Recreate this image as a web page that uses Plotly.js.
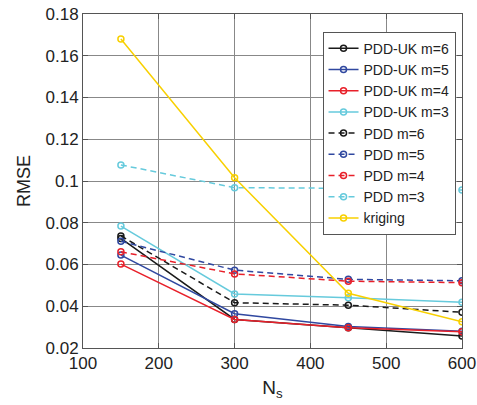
<!DOCTYPE html>
<html>
<head>
<meta charset="utf-8">
<script src="https://cdn.plot.ly/plotly-3.0.1.min.js"></script>
<style>html,body{margin:0;padding:0;background:#fff;}#chart{width:477px;height:405px;}</style>
</head>
<body>
<div id="chart"></div>
<script>
const Ns = [150, 300, 450, 600];
const pddUk6 = [0.0725, 0.0337, 0.0297, 0.0257];
const pddUk5 = [0.0645, 0.0364, 0.0303, 0.0280];
const pddUk4 = [0.0602, 0.0337, 0.0297, 0.0278];
const pddUk3 = [0.0784, 0.0459, 0.0441, 0.0419];
const pdd6 = [0.0737, 0.0417, 0.0405, 0.0371];
const pdd5 = [0.0711, 0.0573, 0.0529, 0.0522];
const pdd4 = [0.0661, 0.0555, 0.0520, 0.0513];
const pdd3 = [0.1077, 0.0968, 0.0965, 0.0957];
const kriging = [0.168, 0.1016, 0.0462, 0.0326];

const names = ['PDD-UK m=6','PDD-UK m=5','PDD-UK m=4','PDD-UK m=3','PDD m=6','PDD m=5','PDD m=4','PDD m=3','kriging'];
const series = [pddUk6, pddUk5, pddUk4, pddUk3, pdd6, pdd5, pdd4, pdd3, kriging];
const colors = ['#1a1a1a','#3048a0','#e8202a','#66cadc','#1a1a1a','#3048a0','#e8202a','#66cadc','#f8d000'];
const dashes = ['solid','solid','solid','solid','6px,4px','6px,4px','6px,4px','6px,4px','solid'];

const traces = series.map((s, i) => ({
  x: Ns, y: s, name: names[i], type: 'scatter', mode: 'lines+markers',
  line: {color: colors[i], width: 1.5, dash: dashes[i]},
  marker: {symbol: 'circle-open', size: 6, color: colors[i], line: {width: 1.5, color: colors[i]}}
}));

const layout = {
  width: 477, height: 405,
  margin: {l: 83, r: 15, t: 14, b: 57, pad: 0},
  paper_bgcolor: '#fff', plot_bgcolor: '#fff',
  font: {family: 'Liberation Sans, Arial, sans-serif', color: '#222', size: 17},
  showlegend: true,
  legend: {x: 0.632, y: 0.947, xanchor: 'left', yanchor: 'top', bgcolor: '#fff',
    bordercolor: '#555', borderwidth: 1, font: {size: 14, color: '#222'}, itemwidth: 30, tracegroupgap: 0},
  xaxis: {
    range: [100, 600], tickvals: [100,200,300,400,500,600], ticks: 'inside', ticklen: 5,
    tickcolor: '#555', showline: true, linecolor: '#555', linewidth: 1, mirror: 'ticks',
    showgrid: true, gridcolor: '#888', gridwidth: 1, zeroline: false, ticklabeloverflow: 'allow',
    tickfont: {size: 17, color: '#222'},
    title: {text: 'N<sub>s</sub>', font: {size: 19, color: '#222'}, standoff: 8}
  },
  yaxis: {
    range: [0.02, 0.18], tickvals: [0.02,0.04,0.06,0.08,0.1,0.12,0.14,0.16,0.18],
    ticktext: ['0.02','0.04','0.06','0.08','0.1','0.12','0.14','0.16','0.18'],
    ticks: 'inside', ticklen: 5, tickcolor: '#555', showline: true, linecolor: '#555', linewidth: 1, mirror: 'ticks',
    showgrid: true, gridcolor: '#888', gridwidth: 1, zeroline: false, ticklabeloverflow: 'allow',
    tickfont: {size: 17, color: '#222'},
    title: {text: 'RMSE', font: {size: 18, color: '#222'}, standoff: 10}
  }
};
Plotly.newPlot('chart', traces, layout, {displayModeBar: false, staticPlot: true});
</script>
</body>
</html>
